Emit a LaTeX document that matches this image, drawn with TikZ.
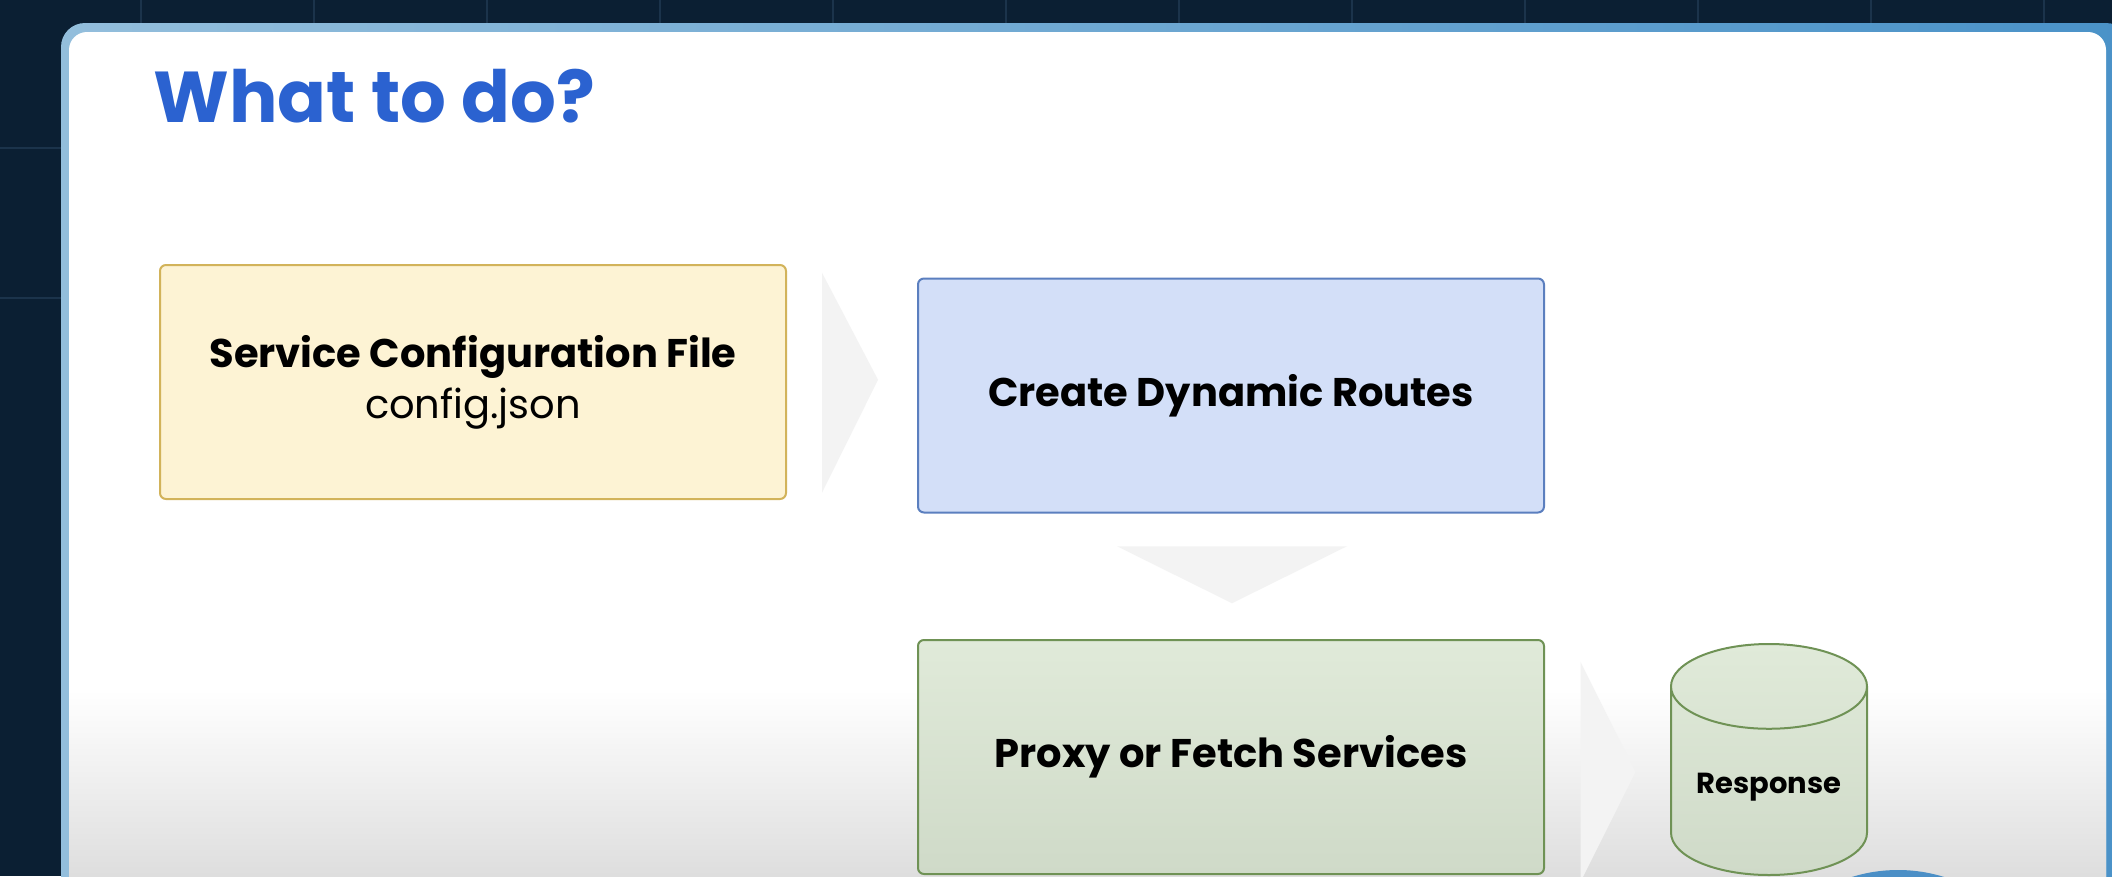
\documentclass[tikz,border=0pt]{standalone}
\usepackage{fontspec}
\setmainfont{Poppins}
\usetikzlibrary{shapes.geometric,calc}

\definecolor{navybg}{HTML}{0B1F33}
\definecolor{gridline}{HTML}{1B334B}
\definecolor{cardleft}{HTML}{93BEDC}
\definecolor{cardright}{HTML}{4A92C8}
\definecolor{titleblue}{HTML}{2B62D0}
\definecolor{cfgfill}{HTML}{FDF3D4}
\definecolor{cfgline}{HTML}{D2B35A}
\definecolor{routefill}{HTML}{D3DFF8}
\definecolor{routeline}{HTML}{5B7FBF}
\definecolor{proxytop}{HTML}{E0EAD9}
\definecolor{proxybot}{HTML}{CFDAC8}
\definecolor{proxyline}{HTML}{6F9255}
\definecolor{faintgray}{HTML}{F3F3F3}
\definecolor{avatarblue}{HTML}{4B8FC6}

\begin{document}
\begin{tikzpicture}[x=1pt, y=-1pt,
	stepbox/.style = {draw, rounded corners=6pt, line width=2pt,
		minimum width=626pt, minimum height=234pt, align=center,
		font=\fontsize{40}{51}\selectfont\bfseries},
	faint/.style = {fill=faintgray}]
	
	\useasboundingbox (0,0) rectangle (2112,876);
	\clip (0,0) rectangle (2112,876);
	
	% background and card
	\fill[navybg] (0,0) rectangle (2112,876);
	\foreach \x in {141,314,...,2112}
		\draw[gridline, line width=1.5pt] (\x,0) -- (\x,876);
	\foreach \y in {148,298}
		\draw[gridline, line width=1.5pt] (0,\y) -- (2112,\y);
	\shade[left color=cardleft, right color=cardright, rounded corners=24pt]
		(61,23) rectangle (2130,920);
	\fill[white, rounded corners=18pt] (69,32) rectangle (2106,920);
	\shade[top color=white, bottom color=black!13] (69,690) rectangle (2106,876);
	
	\node [anchor=base west, text=titleblue,
		   font=\fontsize{72}{80}\selectfont\bfseries] (title) at (150,122){What to do?};
	
	\node [stepbox, fill=cfgfill, draw=cfgline] (cfg) at (473,382)
		{Service Configuration File\\{\mdseries config.json}};
	\node [stepbox, fill=routefill, draw=routeline] (routes) at (1231,395.5)
		{Create Dynamic Routes};
	\node [stepbox,
		   shade, top color=proxytop, bottom color=proxybot,
		   draw=proxyline] (proxy) at (1231,757){Proxy or Fetch Services};
	\node [cylinder, shape border rotate=90, aspect=0.56,
		   draw=proxyline, line width=2pt,
		   shade, top color=proxytop, bottom color=proxybot,
		   minimum width=196pt, minimum height=231pt, anchor=bottom,
		   font=\fontsize{29}{34}\selectfont\bfseries] (resp) at (1769,876){Response};
	
	\path (cfg.east) -- (routes.west) coordinate[midway] (gap1);
	\path (routes.south) -- (proxy.north) coordinate[midway] (gap2);
	\path (proxy.east) -- (resp.west) coordinate[midway] (gap3);
	
	\fill[faint] ($(gap1)+(-30,-116)$) -- ($(gap1)+(26,-9)$) -- ($(gap1)+(-30,104)$) -- cycle;
	\fill[faint] ($(gap2)+(-114,-30)$) -- ($(gap2)+(116,-30)$) -- ($(gap2)+(1,27)$) -- cycle;
	\fill[faint] ($(gap3)+(-27,-110)$) -- ($(gap3)+(28,0)$) -- ($(gap3)+(-27,110)$) -- cycle;
	
	\fill[avatarblue] (1898,1025) circle (155);
	
\end{tikzpicture}
\end{document}
